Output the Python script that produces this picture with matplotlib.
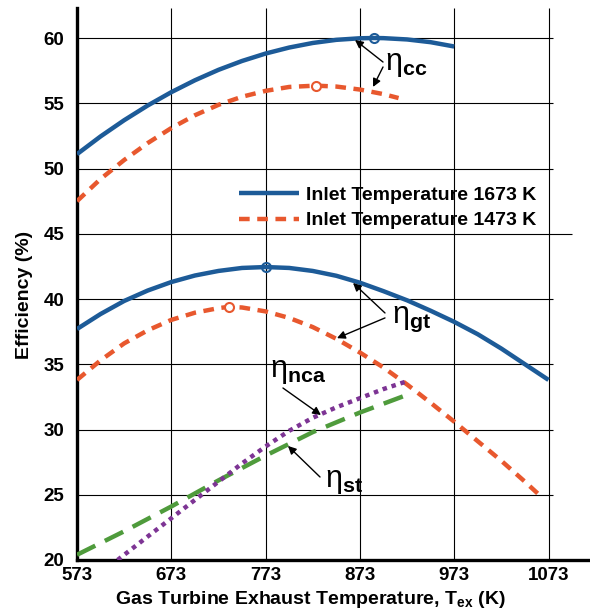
""" Efficiency vs gas turbine exhaust temperature """
import numpy as np
import matplotlib.pyplot as plt

plt.rcParams['font.family'] = ['Liberation Sans', 'DejaVu Sans']
plt.rcParams['mathtext.fontset'] = 'custom'
plt.rcParams['mathtext.rm'] = 'Liberation Sans'
plt.rcParams['mathtext.bf'] = 'Liberation Sans:bold'

# Data
x_ticks = [573, 673, 773, 873, 973, 1073]
y_ticks = [20, 25, 30, 35, 40, 45, 50, 55, 60]

# combined cycle efficiency
cc_hot_t = [573, 598, 623, 648, 673, 698, 723, 748, 773, 798, 823, 848, 873, 888, 898, 923, 948, 973]
cc_hot = [51.1, 52.46, 53.7, 54.83, 55.85, 56.76, 57.56, 58.24, 58.81, 59.27, 59.62, 59.86, 59.98, 60.0, 59.99, 59.89, 59.68, 59.35]
cc_cold_t = [573, 598, 623, 648, 673, 698, 723, 748, 773, 798, 826, 848, 873, 898, 914]
cc_cold = [47.5, 49.2, 50.65, 51.95, 53.1, 54.08, 54.88, 55.5, 55.95, 56.25, 56.35, 56.28, 56.05, 55.7, 55.4]

# gas turbine efficiency
gt_hot_t = [573, 598, 623, 648, 673, 698, 723, 748, 773, 798, 823, 848, 873, 898, 923, 948, 973, 998, 1023, 1048, 1073]
gt_hot = [37.7, 38.85, 39.85, 40.65, 41.3, 41.8, 42.15, 42.38, 42.45, 42.38, 42.15, 41.78, 41.25, 40.6, 39.9, 39.1, 38.25, 37.3, 36.2, 35.0, 33.8]
gt_cold_t = [573, 598, 623, 648, 673, 698, 723, 734, 748, 773, 798, 823, 848, 873, 898, 923, 948, 973, 998, 1023, 1048, 1063]
gt_cold = [33.8, 35.3, 36.6, 37.6, 38.4, 38.95, 39.3, 39.4, 39.35, 39.05, 38.55, 37.85, 36.95, 35.9, 34.75, 33.45, 32.05, 30.6, 29.1, 27.6, 26.0, 25.0]

# steam turbine and nca efficiency
st_t = [573, 623, 673, 723, 773, 823, 873, 921]
st = [20.4, 22.2, 24.1, 26.1, 28.0, 29.8, 31.3, 32.6]
nca_t = [616, 648, 673, 698, 723, 748, 773, 798, 823, 848, 873, 898, 923]
nca = [20.0, 21.8, 23.2, 24.6, 26.0, 27.4, 28.7, 29.9, 30.9, 31.7, 32.4, 33.1, 33.7]

# peak markers
peaks_hot = [(888, 60.0), (773, 42.45)]
peaks_cold = [(826, 56.35), (734, 39.4)]

blue = '#1d5b98'
orange = '#e8582e'
green = '#4f9b3c'
purple = '#7d3494'

fig = plt.figure(figsize=(5.9, 6.14), dpi=100)
ax = fig.add_axes([77/590, 54/614, 513/590, 552/614])
ax.set_xlim(573, 1117)
ax.set_ylim(20, 62.3)

# grid drawn by hand so it stops short of the right edge
for xt in x_ticks:
    ax.vlines(xt, 20, 62.3, color='black', lw=0.8, zorder=1)
for yt in y_ticks:
    ax.hlines(yt, 573, 1098 if yt == 45 else 1078, color='black', lw=0.8, zorder=1)

lw = 3.2
ax.plot(cc_hot_t, cc_hot, color=blue, lw=lw, solid_capstyle='butt', solid_joinstyle='round',
        zorder=3, label='Inlet Temperature 1673 K')
ax.plot(cc_cold_t, cc_cold, color=orange, lw=lw, dashes=(2.4, 1.7), zorder=3,
        label='Inlet Temperature 1473 K')
ax.plot(gt_hot_t, gt_hot, color=blue, lw=lw, solid_capstyle='butt', solid_joinstyle='round', zorder=3)
ax.plot(gt_cold_t, gt_cold, color=orange, lw=lw, dashes=(2.4, 1.7), zorder=3)
ax.plot(st_t, st, color=green, lw=lw, dashes=(4.6, 2.4), zorder=3)
ax.plot(nca_t, nca, color=purple, lw=lw, dashes=(1.0, 1.1), zorder=4)

for px, py in peaks_hot:
    ax.plot(px, py, 'o', ms=6.5, mfc='none', mec=blue, mew=1.5, zorder=5)
for px, py in peaks_cold:
    ax.plot(px, py, 'o', ms=6.5, mfc='white', mec=orange, mew=1.5, zorder=5)

# annotations
arrow = dict(arrowstyle='-|>', color='black', lw=1.0, mutation_scale=12, shrinkA=0, shrinkB=0)
eta_font = dict(fontsize=22, va='baseline')

ax.annotate('', xy=(867.8, 59.85), xytext=(897.5, 58.16), arrowprops=arrow)
ax.annotate('', xy=(886.9, 56.25), xytext=(897.5, 57.78), arrowprops=arrow)
ax.text(899.6, 57.55, r'η$_{\mathbf{cc}}$', **eta_font)

ax.annotate('', xy=(865.7, 41.23), xytext=(899.6, 38.93), arrowprops=arrow)
ax.annotate('', xy=(848.7, 37.0), xytext=(899.6, 38.55), arrowprops=arrow)
ax.text(907.0, 38.16, r'η$_{\mathbf{gt}}$', **eta_font)

ax.annotate('', xy=(831.7, 31.11), xytext=(791.4, 33.18), arrowprops=arrow)
ax.text(777.7, 34.02, r'η$_{\mathbf{nca}}$', **eta_font)

ax.annotate('', xy=(796.7, 28.74), xytext=(830.7, 26.36), arrowprops=arrow)
ax.text(836.0, 25.59, r'η$_{\mathbf{st}}$', **eta_font)

# axes styling
for s in ['top', 'right']:
    ax.spines[s].set_visible(False)
for s in ['left', 'bottom']:
    ax.spines[s].set_linewidth(2.4)
ax.set_xticks(x_ticks)
ax.set_yticks(y_ticks)
ax.tick_params(length=0, labelsize=13.5)
ax.tick_params(axis='y', pad=9)
ax.tick_params(axis='x', pad=5)
for lab in ax.get_xticklabels() + ax.get_yticklabels():
    lab.set_fontweight('bold')

ax.set_ylabel('Efficiency (%)', fontsize=14, fontweight='bold')
ax.yaxis.set_label_coords(-(77 - 33) / 513, (560 - 295) / 552)
fig.text(310/590, 1 - 599/614, r'Gas Turbine Exhaust Temperature, T$_{\mathbf{ex}}$ (K)',
         fontsize=14, fontweight='bold', ha='center', va='center')

ax.legend(loc='upper left', bbox_to_anchor=((239 - 77) / 513, (560 - 186) / 552),
          frameon=False, borderpad=0, borderaxespad=0, handlelength=3.1,
          handletextpad=0.36, labelspacing=0.42, prop={'size': 14, 'weight': 'bold'})

fig.savefig('out.png', dpi=100)
